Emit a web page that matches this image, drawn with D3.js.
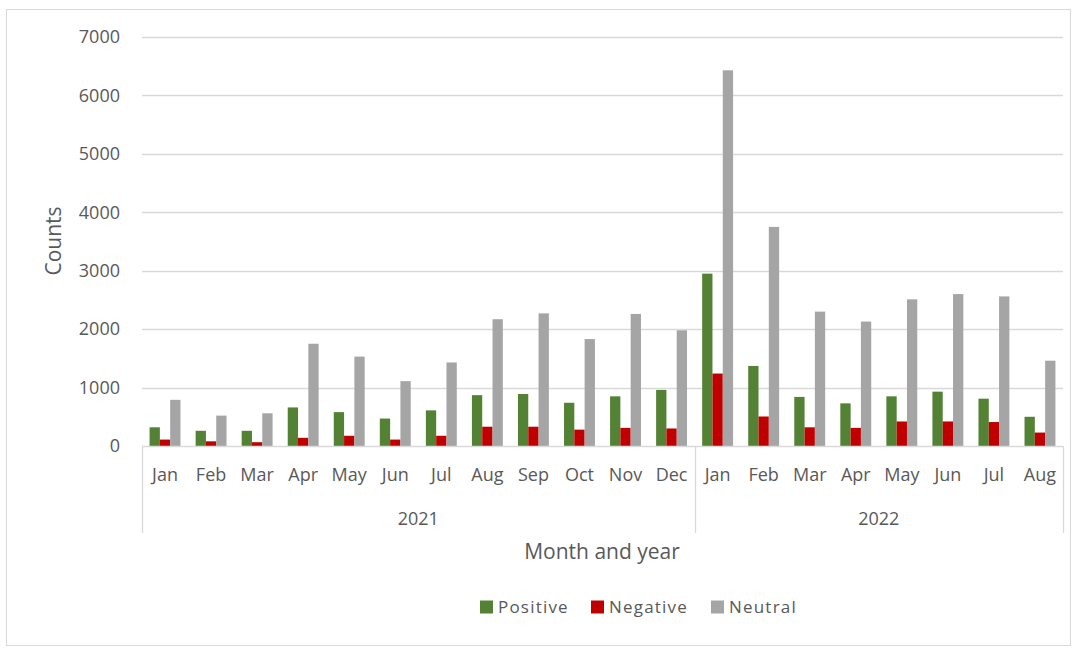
<!DOCTYPE html>
<html>
<head>
<meta charset="utf-8">
<script src="https://cdn.jsdelivr.net/npm/d3@7"></script>
<style>
  body { margin: 0; background: #fff; }
  text { font-family: "Open Sans", "Liberation Sans", sans-serif; fill: #595959; }
</style>
</head>
<body>
<div id="chart"></div>
<script>
// data
const months = ['Jan', 'Feb', 'Mar', 'Apr', 'May', 'Jun', 'Jul', 'Aug', 'Sep', 'Oct', 'Nov', 'Dec',
                'Jan', 'Feb', 'Mar', 'Apr', 'May', 'Jun', 'Jul', 'Aug'];
const years = [{ label: '2021', count: 12 }, { label: '2022', count: 8 }];
const positive = [320, 260, 260, 660, 580, 470, 610, 870, 890, 740, 850, 960,
                  2950, 1370, 840, 730, 850, 930, 810, 500];
const negative = [110, 80, 65, 140, 175, 110, 175, 330, 330, 280, 310, 300,
                  1240, 505, 320, 310, 420, 420, 410, 230];
const neutral = [790, 520, 560, 1750, 1530, 1110, 1430, 2170, 2270, 1830, 2260, 1980,
                 6430, 3750, 2300, 2130, 2510, 2600, 2560, 1460];
const seriesNames = ['Positive', 'Negative', 'Neutral'];
const seriesColors = ['#548235', '#c00000', '#a5a5a5'];
const yTicks = [0, 1000, 2000, 3000, 4000, 5000, 6000, 7000];

const W = 1079, H = 654;
const margin = { left: 142, right: 16, top: 37, bottom: 208 };

const svg = d3.select('#chart').append('svg')
  .attr('width', W).attr('height', H);

// chart border
svg.append('rect')
  .attr('x', 6.5).attr('y', 9.5).attr('width', 1064).attr('height', 636)
  .attr('fill', 'none').attr('stroke', '#d9d9d9');

const idx = months.map((m, i) => i);
const x = d3.scaleBand().domain(idx).range([margin.left, W - margin.right]).paddingInner(0).paddingOuter(0);
const y = d3.scaleLinear().domain([0, 7000]).range([H - margin.bottom, margin.top]);

const bw = x.bandwidth() / (3 + 1.47);
const x1 = d3.scaleBand().domain([0, 1, 2])
  .range([(x.bandwidth() - 3 * bw) / 2, (x.bandwidth() + 3 * bw) / 2]);

// gridlines
svg.append('g').selectAll('line').data(yTicks.slice(1)).enter().append('line')
  .attr('x1', margin.left).attr('x2', W - margin.right)
  .attr('y1', d => Math.round(y(d)) + 0.5).attr('y2', d => Math.round(y(d)) + 0.5)
  .attr('stroke', '#d9d9d9').attr('stroke-width', 1.3);

// y labels
svg.append('g').selectAll('text').data(yTicks).enter().append('text')
  .attr('x', 120).attr('y', d => y(d)).attr('dy', '0.35em')
  .attr('text-anchor', 'end').style('font-size', '18px')
  .text(d => d);

// bars
const data = [positive, negative, neutral];
const groups = svg.append('g').selectAll('g').data(idx).enter().append('g')
  .attr('transform', i => `translate(${x(i)},0)`);
groups.selectAll('rect').data(i => data.map((s, k) => ({ k, v: s[i] }))).enter().append('rect')
  .attr('x', d => x1(d.k)).attr('width', x1.bandwidth())
  .attr('y', d => y(d.v)).attr('height', d => y(0) - y(d.v))
  .attr('fill', d => seriesColors[d.k]);

// category axis
const base = y(0);
svg.append('line')
  .attr('x1', margin.left).attr('x2', W - margin.right)
  .attr('y1', base + 0.5).attr('y2', base + 0.5)
  .attr('stroke', '#d9d9d9').attr('stroke-width', 1.3);

svg.append('g').selectAll('text').data(idx).enter().append('text')
  .attr('x', i => x(i) + x.bandwidth() / 2).attr('y', 475).attr('dy', '0.35em')
  .attr('text-anchor', 'middle').style('font-size', '18px')
  .text(i => months[i]);

let start = 0;
const bounds = [0];
years.forEach(yr => {
  const x0 = x(start), xe = start + yr.count < months.length ? x(start + yr.count) : W - margin.right;
  svg.append('text')
    .attr('x', (x0 + xe) / 2).attr('y', 519).attr('dy', '0.35em')
    .attr('text-anchor', 'middle').style('font-size', '18px')
    .text(yr.label);
  start += yr.count;
  bounds.push(start);
});
svg.append('g').selectAll('line').data(bounds).enter().append('line')
  .attr('x1', b => Math.round(b < months.length ? x(b) : W - margin.right) + 0.5)
  .attr('x2', b => Math.round(b < months.length ? x(b) : W - margin.right) + 0.5)
  .attr('y1', base).attr('y2', 533)
  .attr('stroke', '#d9d9d9').attr('stroke-width', 1.3);

// axis titles
svg.append('text')
  .attr('x', 602).attr('y', 552).attr('dy', '0.35em')
  .attr('text-anchor', 'middle').style('font-size', '21px')
  .text('Month and year');
svg.append('text')
  .attr('transform', 'translate(54,241) rotate(-90)').attr('dy', '0.35em')
  .attr('text-anchor', 'middle').style('font-size', '21px')
  .text('Counts');

// legend
const legendX = [480, 591, 711];
const legend = svg.append('g').selectAll('g').data(seriesNames).enter().append('g')
  .attr('transform', (d, i) => `translate(${legendX[i]},607)`);
legend.append('rect').attr('x', 0).attr('y', -6.5).attr('width', 13).attr('height', 13)
  .attr('fill', (d, i) => seriesColors[i]);
legend.append('text').attr('x', 18).attr('dy', '0.35em')
  .style('font-size', '17px').style('letter-spacing', '1.2px')
  .text(d => d);
</script>
</body>
</html>
